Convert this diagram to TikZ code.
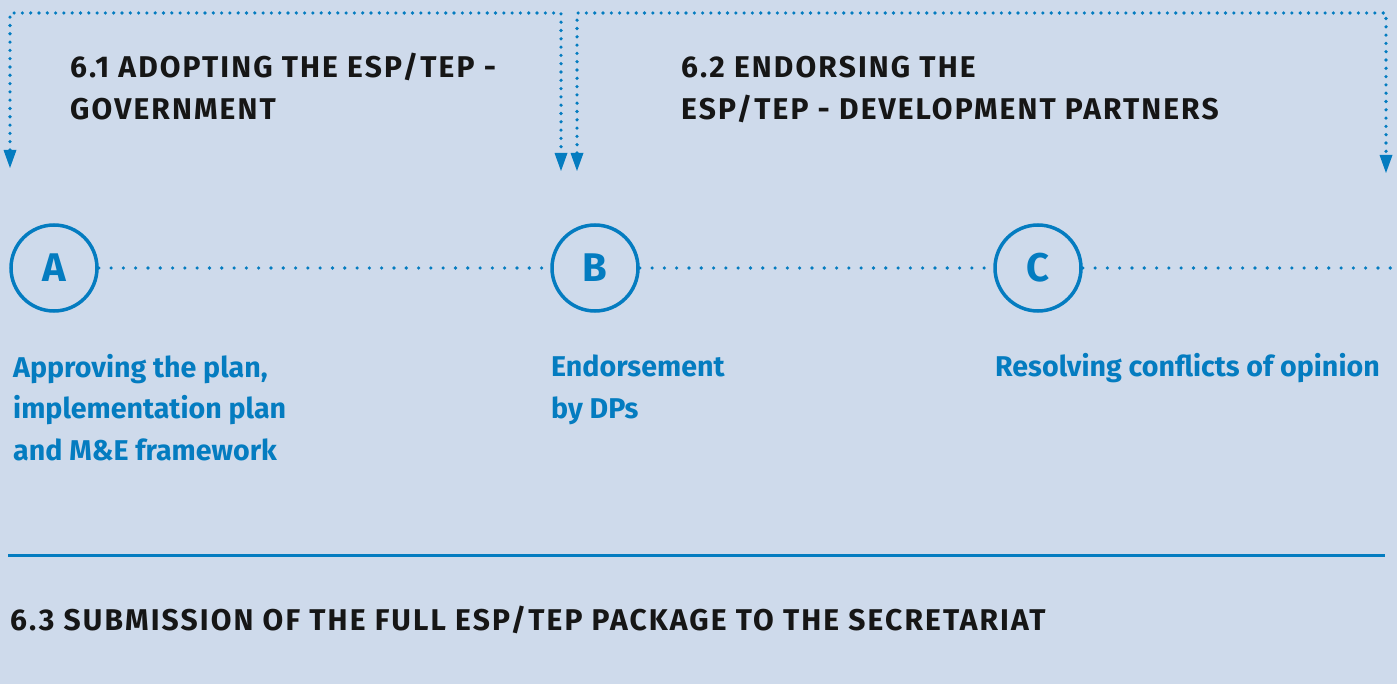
\documentclass[tikz,border=0pt]{standalone}
\usepackage{fontspec}
\setmainfont{Fira Sans}
\newfontfamily\headfont[LetterSpace=7]{Fira Sans}
\usetikzlibrary{arrows.meta}
\definecolor{bgblue}{RGB}{206,218,235}
\definecolor{dpblue}{RGB}{4,124,192}
\definecolor{ink}{RGB}{22,22,22}

\begin{document}
\begin{tikzpicture}[x=1pt,y=-1pt,
  tinydots/.style={dpblue,line width=3.6pt,line cap=round,dash pattern=on 0pt off 8.3pt},
  widedots/.style={dpblue,line width=3.6pt,line cap=round,dash pattern=on 0pt off 12.3pt},
  downtip/.style={{Triangle[width=13pt,length=18pt,line width=0pt]}-{Triangle[width=13pt,length=18pt,line width=0pt]}},
  letter/.style={circle,draw=dpblue,line width=3.5pt,minimum size=86pt,inner sep=0pt,text=dpblue,font=\bfseries\fontsize{40}{40}\selectfont},
  headtext/.style={anchor=base west,inner sep=0pt,text=ink,align=left,font=\headfont\bfseries\fontsize{30}{42.5}\selectfont},
  bluetext/.style={anchor=base west,inner sep=0pt,text=dpblue,align=left,font=\bfseries\fontsize{28.6}{41.5}\selectfont}]
\fill[bgblue] (0,0) rectangle (1397,684);
\useasboundingbox (0,0) rectangle (1397,684);

% brackets on top
\coordinate (top) at (0,13);
\coordinate (govL) at (10,168);
\coordinate (govR) at (561,171);
\coordinate (dpL) at (577,171);
\coordinate (dpR) at (1386,173);
\draw[tinydots,downtip] (govL) -- (govL |- top) -- (govR |- top) -- (govR);
\draw[tinydots,downtip] (dpL) -- (dpL |- top) -- (dpR |- top) -- (dpR);
\node[headtext] (govhead) at (70,120) {6.1 ADOPTING THE ESP/TEP -\\GOVERNMENT};
\node[headtext] (dphead) at (681,120) {6.2 ENDORSING THE\\ESP/TEP - DEVELOPMENT PARTNERS};

% steps A, B, C
\node[letter] (A) at (54,268) {A};
\node[letter] (B) at (595,268) {B};
\node[letter] (C) at (1038,268) {C};
\coordinate (lineend) at (1392,268);
\draw[widedots] (A) -- (B);
\draw[widedots] (B) -- (C);
\draw[widedots] (C) -- (lineend);
\node[bluetext] (Atext) at (13,460) {Approving the plan,\\implementation plan\\and M\&E framework};
\node[bluetext] (Btext) at (551,418) {Endorsement\\by DPs};
\node[bluetext] (Ctext) at (995,377) {Resolving conflicts of opinion};

% submission
\coordinate (ruleL) at (8,555);
\coordinate (ruleR) at (1385,555);
\draw[dpblue,line width=3pt] (ruleL) -- (ruleR);
\node[headtext] (subtext) at (10,630) {6.3 SUBMISSION OF THE FULL ESP/TEP PACKAGE TO THE SECRETARIAT};
\end{tikzpicture}
\end{document}
